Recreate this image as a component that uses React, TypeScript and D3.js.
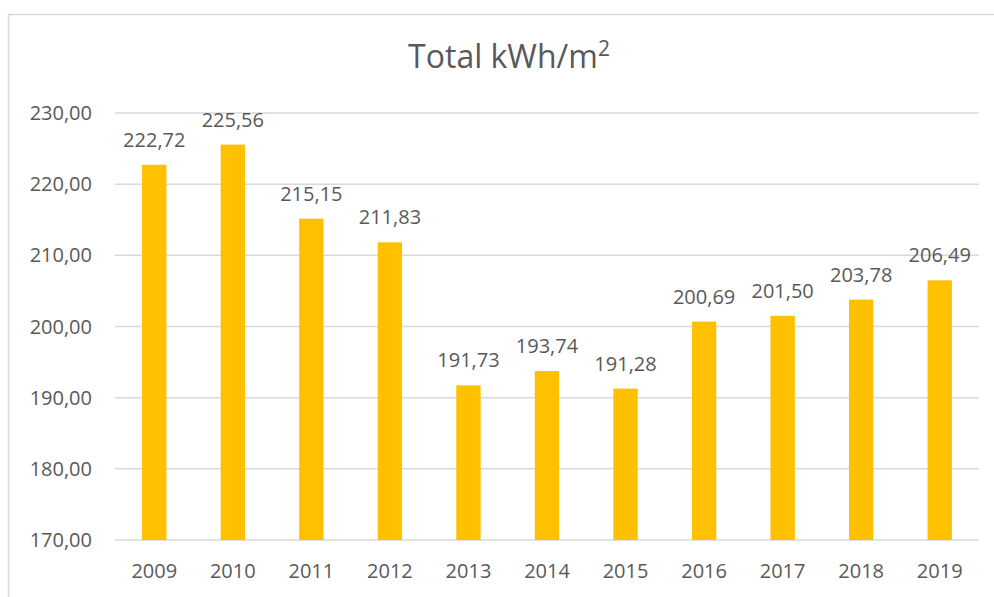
import React, { useEffect, useRef } from "react";
import * as d3 from "d3";

const years = ["2009", "2010", "2011", "2012", "2013", "2014", "2015", "2016", "2017", "2018", "2019"];
const totals = [222.72, 225.56, 215.15, 211.83, 191.73, 193.74, 191.28, 200.69, 201.5, 203.78, 206.49];
const yTicks = [170, 180, 190, 200, 210, 220, 230];

const fmt = (v: number) => v.toFixed(2).replace(".", ",");

const App = () => {
  const svgRef = useRef<SVGSVGElement>(null);
  const width = 994;
  const height = 597;
  const plot = { left: 115, right: 979, top: 113, bottom: 540 };
  const font = "'Open Sans', sans-serif";
  const textColor = "#595959";

  useEffect(() => {
    const svg = d3.select(svgRef.current).attr("width", width).attr("height", height);
    svg.selectAll("*").remove();

    // chart frame (cut off on the right and bottom)
    svg
      .append("rect")
      .attr("x", 8.5)
      .attr("y", 14.5)
      .attr("width", 1000)
      .attr("height", 600)
      .attr("fill", "#fff")
      .attr("stroke", "#d9d9d9")
      .attr("stroke-width", 1.5);

    const x = d3.scaleBand().domain(years).range([plot.left, plot.right]).padding(0);
    const y = d3.scaleLinear().domain([170, 230]).range([plot.bottom, plot.top]);
    const barW = x.step() * 0.31;

    // gridlines
    svg
      .append("g")
      .selectAll("line")
      .data(yTicks)
      .enter()
      .append("line")
      .attr("x1", plot.left)
      .attr("x2", plot.right)
      .attr("y1", (d) => y(d))
      .attr("y2", (d) => y(d))
      .attr("stroke", "#d9d9d9")
      .attr("stroke-width", 1.5);

    // y tick labels
    svg
      .append("g")
      .selectAll("text")
      .data(yTicks)
      .enter()
      .append("text")
      .attr("x", 92)
      .attr("y", (d) => y(d))
      .attr("dy", "0.35em")
      .attr("text-anchor", "end")
      .attr("fill", textColor)
      .style("font-family", font)
      .style("font-size", "20px")
      .text((d) => fmt(d));

    // bars
    svg
      .append("g")
      .selectAll("rect")
      .data(totals)
      .enter()
      .append("rect")
      .attr("x", (d, i) => x(years[i])! + x.bandwidth() / 2 - barW / 2)
      .attr("y", (d) => y(d))
      .attr("width", barW)
      .attr("height", (d) => y(170) - y(d))
      .attr("fill", "#ffc000");

    // value labels
    svg
      .append("g")
      .selectAll("text")
      .data(totals)
      .enter()
      .append("text")
      .attr("x", (d, i) => x(years[i])! + x.bandwidth() / 2)
      .attr("y", (d) => y(d) - 18)
      .attr("text-anchor", "middle")
      .attr("fill", textColor)
      .style("font-family", font)
      .style("font-size", "20px")
      .text((d) => fmt(d));

    // x labels
    svg
      .append("g")
      .selectAll("text")
      .data(years)
      .enter()
      .append("text")
      .attr("x", (d) => x(d)! + x.bandwidth() / 2)
      .attr("y", 578)
      .attr("text-anchor", "middle")
      .attr("fill", textColor)
      .style("font-family", font)
      .style("font-size", "20px")
      .text((d) => d);

    // title
    const title = svg
      .append("text")
      .attr("x", 509)
      .attr("y", 68)
      .attr("text-anchor", "middle")
      .attr("fill", textColor)
      .style("font-family", font)
      .style("font-size", "32px");
    title.append("tspan").text("Total kWh/m");
    title.append("tspan").attr("dy", -12).style("font-size", "21px").text("2");
  }, []);

  return (
    <div style={{ position: "absolute", left: 0, top: 0 }}>
      <svg ref={svgRef}></svg>
    </div>
  );
};

export default App;
